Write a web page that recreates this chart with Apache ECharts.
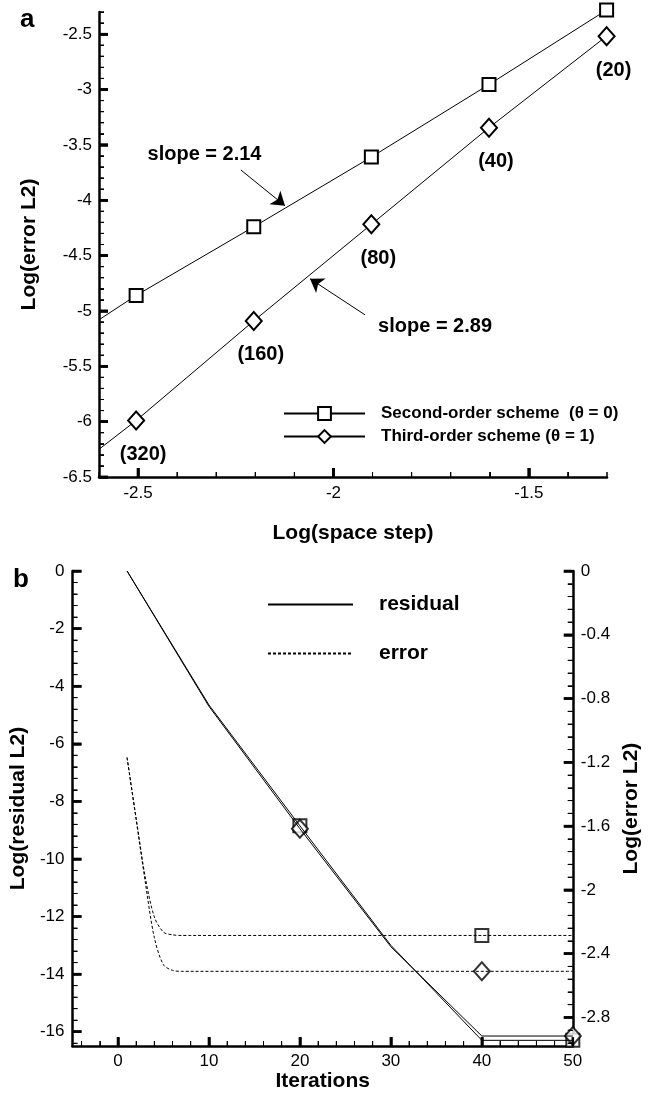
<!DOCTYPE html>
<html><head><meta charset="utf-8">
<script src="https://cdn.jsdelivr.net/npm/echarts@6/dist/echarts.min.js"></script>
<style>html,body{margin:0;padding:0;background:#fff}#c{width:650px;height:1093px}</style>
</head><body><div id="c"></div>
<script>
// ---------- panel a data ----------
const logStep = [-2.505, -2.204, -1.903, -1.602, -1.301];
const gridLabels = ['(320)', '(160)', '(80)', '(40)', '(20)'];
const errSecond = [-4.86, -4.24, -3.61, -2.955, -2.282];
const errThird = [-5.99, -5.09, -4.218, -3.345, -2.518];
const fitStartX = -2.6;
const fitSecondStart = -5.08;
const fitThirdStart = -6.25;
const slopes = [2.14, 2.89];
const topXLabels = [-2.5, -2, -1.5];
const topYLabels = [-6.5, -6, -5.5, -5, -4.5, -4, -3.5, -3, -2.5];
const seriesNamesA = ['Second-order scheme  (\u03b8 = 0)', 'Third-order scheme (\u03b8 = 1)'];

// ---------- panel b data ----------
const resIter = [1, 10, 20, 30, 40, 50];
const resSecond = [0, -4.65, -8.85, -13.0, -16.3, -16.3];
const resThird = [0, -4.7, -8.95, -13.05, -16.15, -16.15];
const errIter = [1, 2, 3, 4, 5, 6, 7, 8, 40, 50];
const errSecondIt = [-1.17, -1.55, -1.92, -2.17, -2.265, -2.282, -2.286, -2.286, -2.286, -2.286];
const errThirdIt = [-1.17, -1.56, -1.95, -2.30, -2.47, -2.505, -2.511, -2.511, -2.511, -2.511];
const resMarkIter = [20, 50];
const errMarkIter = [40];
const botXLabels = [0, 10, 20, 30, 40, 50];
const resYLabels = [0, -2, -4, -6, -8, -10, -12, -14, -16];
const errYLabels = [0, -0.4, -0.8, -1.2, -1.6, -2, -2.4, -2.8];

// axis extents
const TOPX = [-2.6, -1.3], TOPY = [-6.5, -2.3];
const BOTX = [-5, 50], RESY = [-16.5, 0], ERRY = [-2.98, 0];

function range(a, b, step) {
  const out = []; const n = Math.round((b - a) / step);
  for (let i = 0; i <= n; i++) out.push(Math.round((a + i * step) * 1000) / 1000);
  return out;
}
function minors(a, b, step, majors) {
  return range(a, b, step).filter(v => !majors.some(m => Math.abs(m - v) < 1e-6));
}

const BLACK = '#000';
const labelFont = { fontSize: 17, color: BLACK };
const nameFont = { fontSize: 21, fontWeight: 'bold', color: BLACK };

function axis(o) {
  return Object.assign({
    type: 'value', splitLine: { show: false },
    axisLine: { show: true, onZero: false, lineStyle: { color: BLACK, width: 2.5 } },
    axisTick: { show: false },
    axisLabel: Object.assign({ customValues: o.labels, margin: o.margin }, labelFont),
    nameLocation: 'middle', nameTextStyle: nameFont
  }, o.extra);
}

const secondData = [{ value: [fitStartX, fitSecondStart], symbol: 'none' }]
  .concat(logStep.map((x, i) => [x, errSecond[i]]));
const thirdData = [{ value: [fitStartX, fitThirdStart], symbol: 'none', label: { show: false } }]
  .concat(logStep.map((x, i) => ({ value: [x, errThird[i]], gridName: gridLabels[i] })));

const slopeText = { show: true, position: 'inside', fontSize: 20, fontWeight: 'bold', color: BLACK };
const MAJ = 9, MIN = 5, MAJW = 2.5, MINW = 1;

const option = {
  animation: false,
  backgroundColor: '#fff',
  textStyle: { fontFamily: 'Liberation Sans, Arial, Helvetica, sans-serif' },
  title: [
    { text: 'a', left: 15, top: 2, textStyle: { fontSize: 26, fontWeight: 'bold', color: BLACK } },
    { text: 'b', left: 8, top: 562, textStyle: { fontSize: 26, fontWeight: 'bold', color: BLACK } }
  ],
  grid: [
    { left: 99, top: 12, width: 508, height: 465 },
    { left: 68, top: 571, width: 522, height: 476 }
  ],
  legend: [
    { data: seriesNamesA, orient: 'vertical', left: 278, top: 400, itemWidth: 81, itemHeight: 16, itemGap: 6,
      selectedMode: false, textStyle: { fontSize: 17, fontWeight: 'bold', color: BLACK, padding: [0, 0, 0, 11] } },
    { data: ['residual', 'error'], orient: 'vertical', left: 262, top: 589, itemWidth: 85, itemHeight: 14, itemGap: 28,
      selectedMode: false, itemStyle: { opacity: 0 },
      textStyle: { fontSize: 21, fontWeight: 'bold', color: BLACK, padding: [0, 0, 0, 21] } }
  ],
  xAxis: [
    axis({ labels: topXLabels, margin: 8, extra: { gridIndex: 0, min: TOPX[0], max: TOPX[1], position: 'bottom', name: 'Log(space step)', nameGap: 46 } }),
    axis({ labels: botXLabels, margin: 7, extra: { gridIndex: 1, min: BOTX[0], max: BOTX[1], position: 'bottom', name: 'Iterations', nameGap: 21 } })
  ],
  yAxis: [
    axis({ labels: topYLabels, margin: 7, extra: { gridIndex: 0, min: TOPY[0], max: TOPY[1], position: 'left', name: 'Log(error L2)', nameGap: 59 } }),
    axis({ labels: resYLabels, margin: 8, extra: { gridIndex: 1, min: RESY[0], max: RESY[1], position: 'left', name: 'Log(residual L2)', nameGap: 33 } }),
    axis({ labels: errYLabels, margin: 8, extra: { gridIndex: 1, min: ERRY[0], max: ERRY[1], position: 'right', name: 'Log(error L2)', nameGap: 40 } })
  ],
  series: [
    {
      name: seriesNamesA[0], type: 'line', xAxisIndex: 0, yAxisIndex: 0, data: secondData, clip: false,
      symbol: 'emptyRect', symbolSize: 13, showAllSymbol: true,
      lineStyle: { color: BLACK, width: 1 }, itemStyle: { color: BLACK, borderWidth: 1.2 },
      markLine: {
        silent: true, symbol: ['none', 'arrow'], symbolSize: 13, label: { show: false },
        lineStyle: { color: BLACK, width: 1, type: 'solid' },
        data: [[{ coord: [-2.237, -3.727] }, { coord: [-2.124, -4.05] }]]
      },
      markPoint: {
        silent: true,
        data: [{ coord: [-2.33, -3.59], symbol: 'circle', symbolSize: 1, itemStyle: { color: 'rgba(0,0,0,0)' },
          label: Object.assign({ formatter: 'slope = ' + slopes[0].toFixed(2) }, slopeText) }]
      }
    },
    {
      name: seriesNamesA[1], type: 'line', xAxisIndex: 0, yAxisIndex: 0, data: thirdData,
      symbol: 'emptyDiamond', symbolSize: [16, 18], showAllSymbol: true,
      lineStyle: { color: BLACK, width: 1 }, itemStyle: { color: BLACK, borderWidth: 1.2 },
      label: { show: true, position: 'bottom', distance: 14, offset: [7, 0], fontSize: 20, fontWeight: 'bold', color: BLACK,
        formatter: p => (p.data && p.data.gridName) || '' },
      markLine: {
        silent: true, symbol: ['none', 'arrow'], symbolSize: 13, label: { show: false },
        lineStyle: { color: BLACK, width: 1, type: 'solid' },
        data: [[{ coord: [-1.919, -5.036] }, { coord: [-2.06, -4.709] }]]
      },
      markPoint: {
        silent: true,
        data: [{ coord: [-1.74, -5.136], symbol: 'circle', symbolSize: 1, itemStyle: { color: 'rgba(0,0,0,0)' },
          label: Object.assign({ formatter: 'slope = ' + slopes[1].toFixed(2) }, slopeText) }]
      }
    },
    { name: 'residual', type: 'line', xAxisIndex: 1, yAxisIndex: 1, symbol: 'none', clip: false,
      data: resIter.map((x, i) => [x, resSecond[i]]), lineStyle: { color: BLACK, width: 1 }, itemStyle: { color: BLACK } },
    { name: 'residual', type: 'line', xAxisIndex: 1, yAxisIndex: 1, symbol: 'none',
      data: resIter.map((x, i) => [x, resThird[i]]), lineStyle: { color: BLACK, width: 1 }, itemStyle: { color: BLACK } },
    { name: 'error', type: 'line', xAxisIndex: 1, yAxisIndex: 2, symbol: 'none', smooth: 0.3, clip: false,
      data: errIter.map((x, i) => [x, errSecondIt[i]]), lineStyle: { color: BLACK, width: 1, type: [3, 2] }, itemStyle: { color: BLACK } },
    { name: 'error', type: 'line', xAxisIndex: 1, yAxisIndex: 2, symbol: 'none', smooth: 0.3,
      data: errIter.map((x, i) => [x, errThirdIt[i]]), lineStyle: { color: BLACK, width: 1, type: [3, 2] }, itemStyle: { color: BLACK } },
    { name: 'resMarkSecond', type: 'scatter', xAxisIndex: 1, yAxisIndex: 1, symbol: 'emptyRect', symbolSize: 13,
      itemStyle: { color: BLACK, borderWidth: 1.2 }, data: resMarkIter.map(it => [it, resSecond[resIter.indexOf(it)]]) },
    { name: 'resMarkThird', type: 'scatter', xAxisIndex: 1, yAxisIndex: 1, symbol: 'emptyDiamond', symbolSize: [16, 18],
      itemStyle: { color: BLACK, borderWidth: 1.2 }, data: resMarkIter.map(it => [it, resThird[resIter.indexOf(it)]]) },
    { name: 'errMarkSecond', type: 'scatter', xAxisIndex: 1, yAxisIndex: 2, symbol: 'emptyRect', symbolSize: 13,
      itemStyle: { color: BLACK, borderWidth: 1.2 }, data: errMarkIter.map(it => [it, errSecondIt[errIter.indexOf(it)]]) },
    { name: 'errMarkThird', type: 'scatter', xAxisIndex: 1, yAxisIndex: 2, symbol: 'emptyDiamond', symbolSize: [16, 18],
      itemStyle: { color: BLACK, borderWidth: 1.2 }, data: errMarkIter.map(it => [it, errThirdIt[errIter.indexOf(it)]]) }
  ]
};
const chart = echarts.init(document.getElementById('c'), null, { renderer: 'canvas' });
chart.setOption(option);

// tick marks, positioned through the axes' own scales
const tickSpecs = [
  { s: 0, f: { xAxisIndex: 0, yAxisIndex: 0 }, ax: [0, 0], side: 'bottom', values: topXLabels, base: TOPY[0], len: MAJ, w: MAJW },
  { s: 0, f: { xAxisIndex: 0, yAxisIndex: 0 }, ax: [0, 0], side: 'bottom', values: minors(TOPX[0], TOPX[1], 0.1, topXLabels), base: TOPY[0], len: MIN, w: MINW },
  { s: 0, f: { xAxisIndex: 0, yAxisIndex: 0 }, ax: [0, 0], side: 'left', values: topYLabels, base: TOPX[0], len: MAJ, w: MAJW },
  { s: 0, f: { xAxisIndex: 0, yAxisIndex: 0 }, ax: [0, 0], side: 'left', values: minors(TOPY[0], TOPY[1], 0.1, topYLabels), base: TOPX[0], len: MIN, w: MINW },
  { s: 2, f: { xAxisIndex: 1, yAxisIndex: 1 }, ax: [1, 1], side: 'bottom', values: botXLabels, base: RESY[0], len: MAJ, w: MAJW },
  { s: 2, f: { xAxisIndex: 1, yAxisIndex: 1 }, ax: [1, 1], side: 'bottom', values: minors(-4, 48, 2, botXLabels), base: RESY[0], len: MIN, w: MINW },
  { s: 2, f: { xAxisIndex: 1, yAxisIndex: 1 }, ax: [1, 1], side: 'left', values: resYLabels, base: BOTX[0], len: MAJ, w: MAJW },
  { s: 2, f: { xAxisIndex: 1, yAxisIndex: 1 }, ax: [1, 1], side: 'left', values: minors(-16.4, 0, 0.4, resYLabels), base: BOTX[0], len: MIN, w: MINW },
  { s: 4, f: { xAxisIndex: 1, yAxisIndex: 2 }, ax: [1, 2], side: 'right', values: errYLabels, base: BOTX[1], len: MAJ, w: MAJW },
  { s: 4, f: { xAxisIndex: 1, yAxisIndex: 2 }, ax: [1, 2], side: 'right', values: minors(-2.96, 0, 0.08, errYLabels), base: BOTX[1], len: MIN, w: MINW }
];
const tickEls = [];
const markTicks = { 0: [], 2: [], 4: [] };
const tickLineSeries = [];
tickSpecs.forEach(s => s.values.forEach(v => {
  const start = s.side === 'bottom' ? [v, s.base] : [s.base, v];
  const p = chart.convertToPixel(s.f, start);
  if (!p) return;
  let x2 = p[0], y2 = p[1];
  if (s.side === 'bottom') y2 -= s.len; else if (s.side === 'left') x2 += s.len; else x2 -= s.len;
  tickEls.push({ type: 'line', silent: true, z: 10,
    shape: { x1: p[0], y1: p[1], x2: x2, y2: y2 }, style: { stroke: BLACK, lineWidth: s.w } });
  const end = chart.convertFromPixel(s.f, [x2, y2]);
  if (end) {
    markTicks[s.s].push([
      { coord: start, symbol: 'none', lineStyle: { color: BLACK, width: s.w, type: 'solid' } },
      { coord: end, symbol: 'none' }
    ]);
    if (s.s === 0) {
      tickLineSeries.push({ type: 'line', name: 'tick', xAxisIndex: s.ax[0], yAxisIndex: s.ax[1],
        data: [start, [end[0], end[1]]], symbol: 'none', silent: true, clip: false, z: 10,
        lineStyle: { color: BLACK, width: s.w, type: 'solid' }, emphasis: { disabled: true } });
    }
  }
}));
const tickMarkLine = data => ({ silent: true, symbol: ['none', 'none'], label: { show: false },
  lineStyle: { color: BLACK, width: 1, type: 'solid' }, emphasis: { disabled: true }, data: data });
option.series[0].markLine.data = option.series[0].markLine.data.concat(markTicks[0]);
option.series[2].markLine = tickMarkLine(markTicks[2]);
option.series[4].markLine = tickMarkLine(markTicks[4]);
option.series = option.series.concat(tickLineSeries);
option.graphic = { elements: tickEls };
chart.setOption(option, true);
</script></body></html>
